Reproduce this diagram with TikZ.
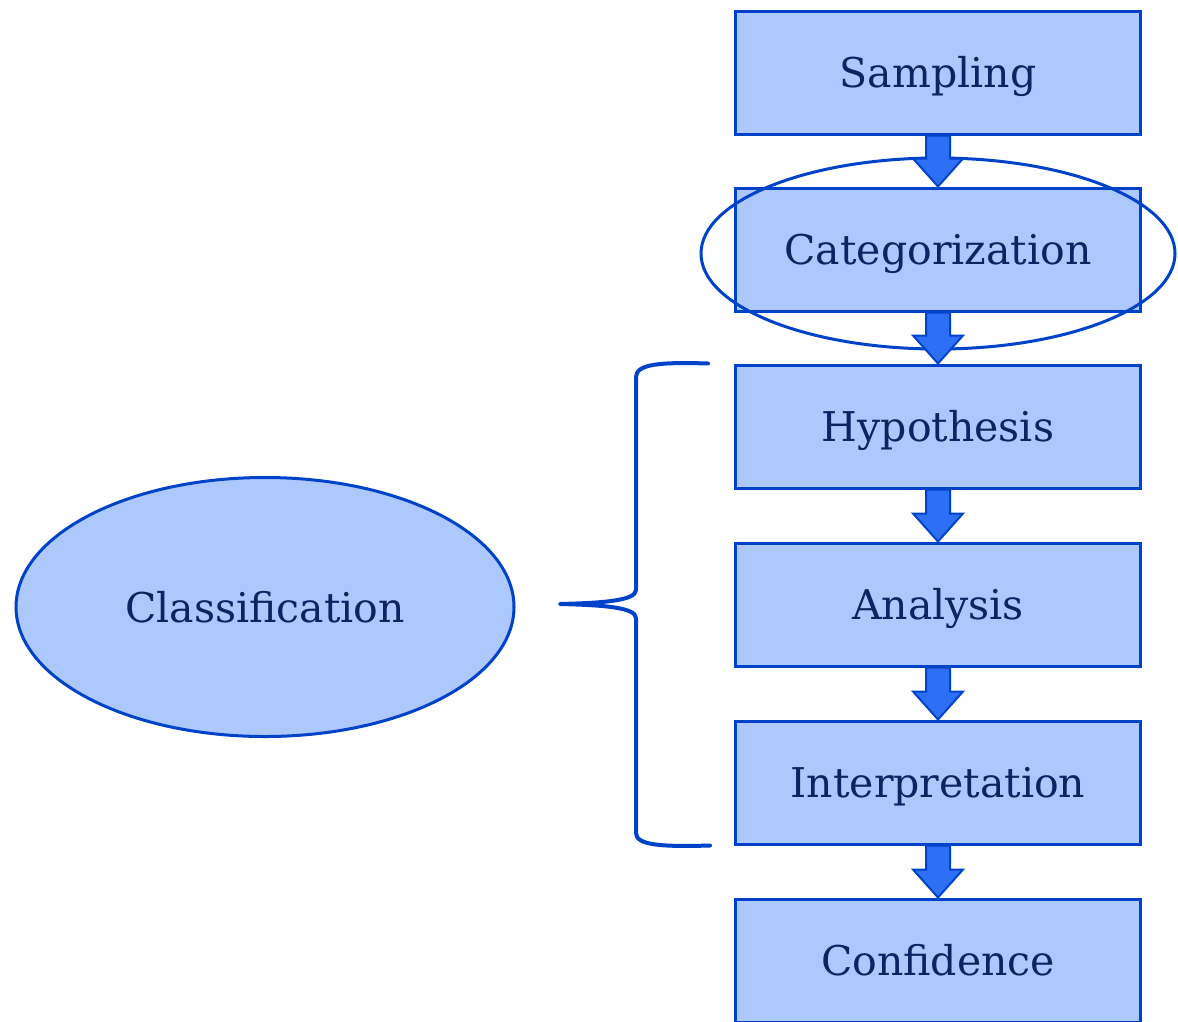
\documentclass[tikz,border=0pt]{standalone}
\usepackage{fontspec}
\setmainfont{DejaVu Serif}
\usetikzlibrary{positioning, shapes.geometric, calc}

\definecolor{boxfill}{RGB}{173,200,253}
\definecolor{boxline}{RGB}{0,66,200}
\definecolor{arrowfill}{RGB}{45,112,246}
\definecolor{textnavy}{RGB}{12,36,98}

\begin{document}
\begin{tikzpicture}[x=1pt, y=-1pt,
    label text/.style={text=textnavy, font=\fontsize{41}{49}\selectfont, text height=30pt, text depth=0pt},
    stage/.style={rectangle, draw=boxline, fill=boxfill, line width=3pt,
        minimum width=405pt, minimum height=123pt, label text},
    group/.style={ellipse, draw=boxline, fill=boxfill, line width=3pt,
        minimum width=498pt, minimum height=259pt, label text},
    ring/.style={ellipse, draw=boxline, line width=3pt, minimum width=474pt, minimum height=191pt},
    flow/.style={draw=boxline, fill=arrowfill, line width=2pt, line join=miter},
    brace/.style={draw=boxline, line width=4pt, line cap=round, line join=round}]

    \useasboundingbox (0,0) rectangle (1178,1021);

    % process steps
    \node[stage] (samp) at (938,72.5) {Sampling};
    \node[stage, below=51pt of samp] (cat) {Categorization};
    \node[stage, below=51pt of cat] (hyp) {Hypothesis};
    \node[stage, below=52pt of hyp] (ana) {Analysis};
    \node[stage, below=52pt of ana] (intp) {Interpretation};
    \node[stage, below=52pt of intp] (conf) {Confidence};

    % highlight round the second step
    \node[ring] (catring) at ([yshift=-4pt]cat.center) {};

    % block arrows between the steps
    \foreach \a/\b in {samp/cat, cat/hyp, hyp/ana, ana/intp, intp/conf} {
        \path[flow] let \p1=(\a.south), \p2=(\b.north) in
            (\x1-12pt,\y1) -- (\x1+12pt,\y1) -- (\x1+12pt,\y2+28pt) -- (\x1+25pt,\y2+28pt)
            -- (\x1,\y2) -- (\x1-25pt,\y2+28pt) -- (\x1-12pt,\y2+28pt) -- cycle;
    }

    % grouping
    \node[group] (cls) at (265,607) {Classification};

    \coordinate (btop) at ([xshift=-26pt]hyp.north west);
    \coordinate (bbot) at ([xshift=-24pt]intp.south west);
    \coordinate (btip) at (560,604);
    \draw[brace] (btop) .. controls (660,362) and (636,364) .. (636,377) -- (636,590)
        .. controls (636,601) and (600,603) .. (btip)
        .. controls (600,605) and (636,607) .. (636,618) -- (636,833)
        .. controls (636,845) and (660,847) .. (bbot);
\end{tikzpicture}
\end{document}
